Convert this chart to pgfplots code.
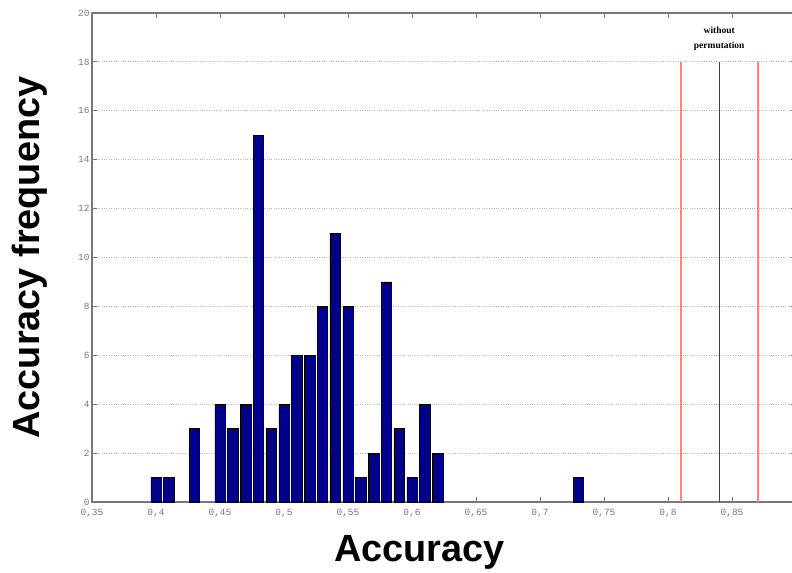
\documentclass[border=0pt]{standalone}
\usepackage{pgfplots}
\pgfplotsset{compat=1.18}
\usepackage{fontspec}
\setmainfont{Liberation Sans}
\newfontfamily\tickfont{Liberation Mono}
\newfontfamily\notefont{Liberation Serif}
\definecolor{barblue}{RGB}{0,0,139}
\definecolor{axgray}{RGB}{120,120,120}
\definecolor{lred}{RGB}{255,130,130}
\begin{document}
\begin{tikzpicture}
\useasboundingbox (0,0) rectangle (792bp,573bp);
\begin{axis}[
  at={(92bp,71bp)}, anchor=south west,
  scale only axis, width=704bp, height=489bp,
  xmin=0.35, xmax=0.9, ymin=0, ymax=20,
  xtick={0.35,0.4,...,0.86}, ytick={0,2,...,20},
  tick align=inside, major tick length=5bp,
  every tick/.style={axgray, line width=0.8pt},
  axis line style={axgray, line width=1.2pt},
  ymajorgrids, grid style={dotted, gray!55, line width=0.9pt},
  /pgf/number format/use comma,
  /pgf/number format/assume math mode=true,
  ticklabel style={font=\tickfont\fontsize{9.5}{10}\selectfont, text=axgray},
  xticklabel style={yshift=-3.5bp},
  yticklabel style={xshift=1bp},
  xlabel={Accuracy}, ylabel={Accuracy frequency},
  label style={font=\bfseries\fontsize{38}{40}\selectfont},
  xlabel style={at={(axis description cs:0.465,-0.104)}, anchor=center},
  ylabel style={at={(axis description cs:-0.088,0.5)}, anchor=center, rotate=0},
  clip=false,
]
\addplot[ybar, bar width=0.0082, fill=barblue, draw=black, line width=0.5pt] coordinates {
(0.40,1) (0.41,1) (0.43,3) (0.45,4) (0.46,3) (0.47,4) (0.48,15) (0.49,3)
(0.50,4) (0.51,6) (0.52,6) (0.53,8) (0.54,11) (0.55,8) (0.56,1) (0.57,2)
(0.58,9) (0.59,3) (0.60,1) (0.61,4) (0.62,2) (0.73,1)};
\addplot[lred, line width=2pt] coordinates {(0.81,0) (0.81,18)};
\addplot[lred, line width=2pt] coordinates {(0.87,0) (0.87,18)};
\addplot[black!75, line width=1pt] coordinates {(0.84,0) (0.84,18)};
\node[align=center, font=\notefont\bfseries\fontsize{9.5}{15}\selectfont] at (axis cs:0.84,18.93) {without\\permutation};
\end{axis}
\end{tikzpicture}
\end{document}
